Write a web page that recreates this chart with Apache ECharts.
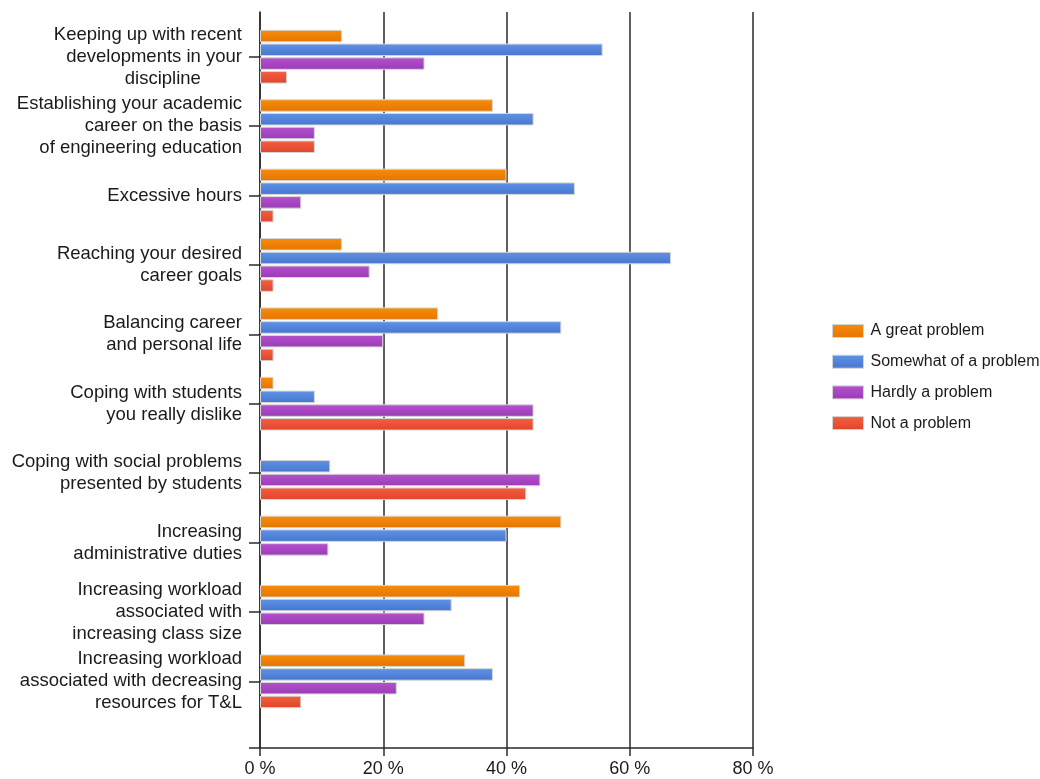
<!DOCTYPE html>
<html>
<head>
<meta charset="utf-8">
<script src="https://cdn.jsdelivr.net/npm/echarts@6/dist/echarts.min.js"></script>
<style>
  html, body { margin: 0; padding: 0; background: #fff; }
  #chart { width: 1040px; height: 779px; }
</style>
</head>
<body>
<div id="chart"></div>
<script>
// Survey items (y axis), top to bottom
const categories = [
  'Keeping up with recent\ndevelopments in your\ndiscipline        ',
  'Establishing your academic\ncareer on the basis\nof engineering education',
  'Excessive hours',
  'Reaching your desired\ncareer goals',
  'Balancing career\nand personal life',
  'Coping with students\nyou really dislike',
  'Coping with social problems\npresented by students',
  'Increasing\nadministrative duties',
  'Increasing workload\nassociated with\nincreasing class size',
  'Increasing workload\nassociated with decreasing\nresources for T&L'
];

// Share of respondents (%) per answer
const greatProblem    = [13.3, 37.8, 40.0, 13.3, 28.9,  2.2,  0.0, 48.9, 42.2, 33.3];
const somewhatProblem = [55.6, 44.4, 51.1, 66.7, 48.9,  8.9, 11.4, 40.0, 31.1, 37.8];
const hardlyProblem   = [26.7,  8.9,  6.7, 17.8, 20.0, 44.4, 45.5, 11.1, 26.7, 22.2];
const notProblem      = [ 4.4,  8.9,  2.2,  2.2,  2.2, 44.4, 43.2,  0.0,  0.0,  6.7];

const seriesNames = ['A great problem', 'Somewhat of a problem', 'Hardly a problem', 'Not a problem'];

// x axis ticks (percent)
const xMin = 0, xMax = 80, xStep = 20;

const FONT = "'Liberation Sans', Arial, sans-serif";
const INK = '#1a1a1a';
const RULE = '#2a2a2a';

function grad(top, bottom) {
  return new echarts.graphic.LinearGradient(0, 0, 0, 1, [
    { offset: 0, color: top },
    { offset: 1, color: bottom }
  ]);
}

const palette = [
  grad('#f78d0a', '#e57400'),
  grad('#5f93e6', '#4676cf'),
  grad('#b452cc', '#9b3bb6'),
  grad('#f4603f', '#e0442c')
];

const values = [greatProblem, somewhatProblem, hardlyProblem, notProblem];

const chart = echarts.init(document.getElementById('chart'), null, { renderer: 'canvas' });

chart.setOption({
  backgroundColor: '#ffffff',
  animation: false,
  textStyle: { fontFamily: FONT },
  legend: {
    orient: 'vertical',
    left: 832,
    top: 323,
    padding: 0,
    itemWidth: 31,
    itemHeight: 13,
    itemGap: 14.7,
    icon: 'rect',
    textStyle: { fontFamily: FONT, fontSize: 16, color: INK, padding: [0, 0, 0, 2] },
    itemStyle: { borderColor: '#d4d4d4', borderWidth: 1 },
    data: seriesNames
  },
  grid: [
    // bars
    { left: 260, right: 287, top: 22, bottom: 63 },
    // frame, gridlines and value axis
    { left: 260, right: 287, top: 12, bottom: 31 }
  ],
  xAxis: [
    {
      gridIndex: 0, type: 'value', min: xMin, max: xMax, interval: xStep,
      axisLine: { show: false }, axisTick: { show: false },
      axisLabel: { show: false }, splitLine: { show: false }
    },
    {
      gridIndex: 1, type: 'value', min: xMin, max: xMax, interval: xStep,
      axisLine: { show: true, lineStyle: { color: RULE, width: 1.5 } },
      axisTick: { show: true, length: 8, lineStyle: { color: RULE, width: 1.5 } },
      axisLabel: {
        formatter: '{value} %', margin: 12,
        fontFamily: FONT, fontSize: 18, color: INK
      },
      splitLine: { show: true, lineStyle: { color: RULE, width: 1.5 } }
    }
  ],
  yAxis: [
    {
      gridIndex: 0, type: 'category', inverse: true, data: categories,
      axisLine: { show: false },
      axisTick: { show: true, alignWithLabel: true, length: 11, lineStyle: { color: RULE, width: 1.5 } },
      axisLabel: {
        margin: 18, fontFamily: FONT, fontSize: 18.5, lineHeight: 22,
        color: INK, align: 'right', padding: [3, 0, 0, 0]
      }
    },
    {
      gridIndex: 1, type: 'value', min: 0, max: 1,
      axisLine: { show: true, lineStyle: { color: RULE, width: 1.5 } },
      axisTick: { show: true, length: 11, customValues: [0], lineStyle: { color: RULE, width: 1.5 } },
      axisLabel: { show: false },
      splitLine: { show: false }
    }
  ],
  series: seriesNames.map((name, i) => ({
    name,
    type: 'bar',
    xAxisIndex: 0,
    yAxisIndex: 0,
    z: 5,
    barWidth: 12.5,
    barGap: '10%',
    itemStyle: { color: palette[i], borderColor: '#d6d6d6', borderWidth: 1 },
    data: values[i].map(v => (v === 0 ? '-' : v))
  }))
});
</script>
</body>
</html>
